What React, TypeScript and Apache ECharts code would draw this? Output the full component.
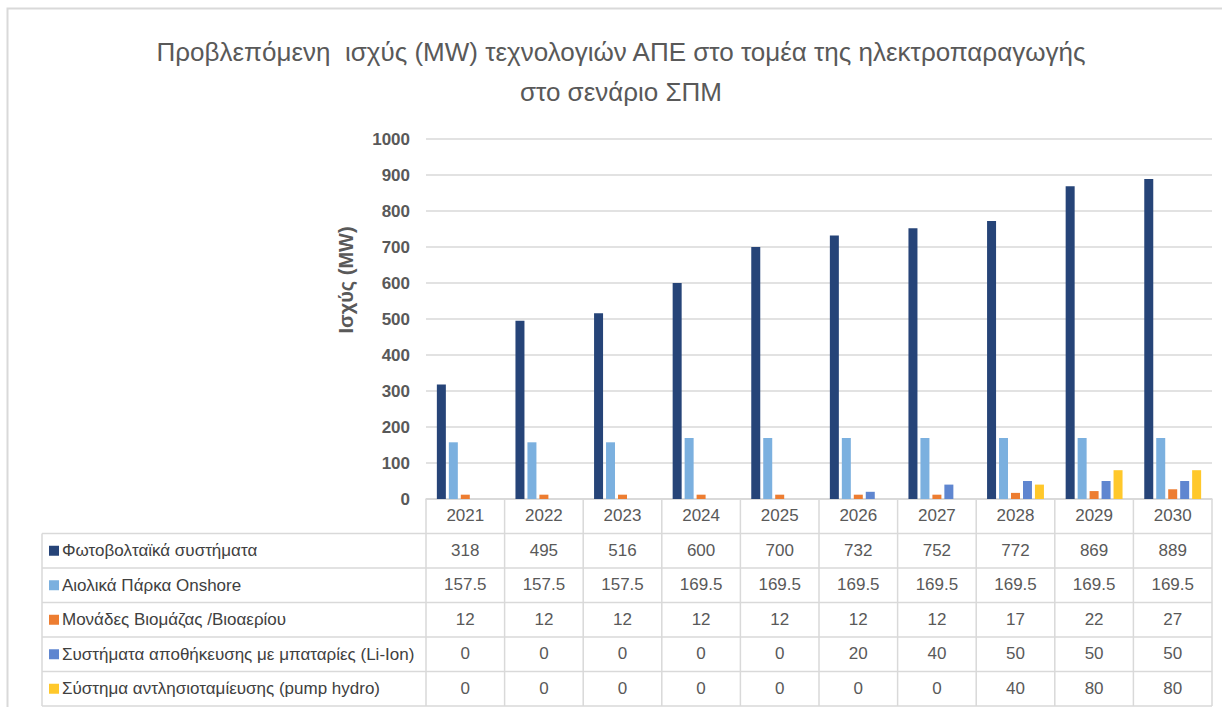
import React, { useEffect, useRef } from "react";
import * as echarts from "echarts";

const years = ["2021", "2022", "2023", "2024", "2025", "2026", "2027", "2028", "2029", "2030"];
const seriesNames = [
  "Φωτοβολταϊκά συστήματα",
  "Αιολικά Πάρκα Onshore",
  "Μονάδες Βιομάζας /Βιοαερίου",
  "Συστήματα αποθήκευσης με μπαταρίες (Li-Ion)",
  "Σύστημα αντλησιοταμίευσης (pump hydro)",
];
const pv = [318, 495, 516, 600, 700, 732, 752, 772, 869, 889];
const wind = [157.5, 157.5, 157.5, 169.5, 169.5, 169.5, 169.5, 169.5, 169.5, 169.5];
const biomass = [12, 12, 12, 12, 12, 12, 12, 17, 22, 27];
const battery = [0, 0, 0, 0, 0, 20, 40, 50, 50, 50];
const pumpHydro = [0, 0, 0, 0, 0, 0, 0, 40, 80, 80];
const seriesData = [pv, wind, biomass, battery, pumpHydro];
const colors = ["#264478", "#7BB0DF", "#ED7D31", "#5F86D0", "#FFC82B"];
const titleLines = [
  "Προβλεπόμενη  ισχύς (MW) τεχνολογιών ΑΠΕ στο τομέα της ηλεκτροπαραγωγής",
  "στο σενάριο ΣΠΜ",
];
const yAxisName = "Ισχύς (MW)";

export default function App() {
  const ref = useRef<HTMLDivElement>(null);
  useEffect(() => {
    document.body.style.margin = "0";
    const chart = echarts.init(ref.current!, undefined, { renderer: "svg" });
    const gridLeft = 426;
    const gridTop = 139;
    const gridW = 786;
    const gridH = 360;
    const gridBottomY = gridTop + gridH;
    const rowH = 34.5;
    const tableLeft = 42;
    const tableRight = gridLeft + gridW;
    const headerBottom = gridBottomY + rowH;
    const tableBottom = headerBottom + rowH * seriesNames.length;
    const colW = gridW / years.length;
    const border = "#D9D9D9";
    const font = "Liberation Sans";

    const graphics: any[] = [];
    graphics.push({
      type: "rect",
      shape: { x: 7.5, y: 8.5, width: 1240, height: 720 },
      style: { fill: "none", stroke: "#D9D9D9", lineWidth: 2 },
      silent: true,
    });
    graphics.push({
      type: "line",
      shape: { x1: gridLeft, y1: gridBottomY, x2: tableRight, y2: gridBottomY },
      style: { stroke: border, lineWidth: 1.5 },
    });
    for (let r = 0; r <= seriesNames.length; r++) {
      const y = headerBottom + r * rowH;
      graphics.push({
        type: "line",
        shape: { x1: tableLeft, y1: y, x2: tableRight, y2: y },
        style: { stroke: border, lineWidth: 1.5 },
      });
    }
    for (let c = 0; c <= years.length; c++) {
      const x = gridLeft + c * colW;
      graphics.push({
        type: "line",
        shape: { x1: x, y1: gridBottomY, x2: x, y2: tableBottom },
        style: { stroke: border, lineWidth: 1.5 },
      });
    }
    graphics.push({
      type: "line",
      shape: { x1: tableLeft, y1: headerBottom, x2: tableLeft, y2: tableBottom },
      style: { stroke: border, lineWidth: 1.5 },
    });
    seriesNames.forEach((name, i) => {
      const cy = headerBottom + i * rowH + rowH / 2;
      graphics.push({
        type: "rect",
        shape: { x: 49, y: cy - 5, width: 10, height: 10 },
        style: { fill: colors[i] },
      });
      graphics.push({
        type: "text",
        x: 62,
        y: cy,
        style: {
          text: name,
          font: `17px "${font}"`,
          fill: "#404040",
          verticalAlign: "middle",
          align: "left",
        },
      });
    });
    titleLines.forEach((t, i) => {
      graphics.push({
        type: "text",
        x: 621,
        y: 52 + i * 40,
        style: {
          text: t,
          font: `26px "${font}"`,
          fill: "#595959",
          align: "center",
          verticalAlign: "middle",
        },
      });
    });
    graphics.push({
      type: "text",
      x: 346,
      y: 280,
      rotation: Math.PI / 2,
      style: {
        text: yAxisName,
        font: `bold 20px "${font}"`,
        fill: "#595959",
        align: "center",
        verticalAlign: "middle",
      },
    });

    const xAxes: any[] = [
      {
        type: "category",
        data: years,
        gridIndex: 0,
        position: "bottom",
        axisLine: { show: true, lineStyle: { color: border, width: 1.5 } },
        axisTick: { show: false },
        axisLabel: { color: "#595959", fontSize: 17, fontFamily: font, margin: 8 },
      },
    ];
    seriesData.forEach((arr, i) => {
      xAxes.push({
        type: "category",
        data: arr.map((v) => String(v)),
        gridIndex: 0,
        position: "bottom",
        offset: rowH * (i + 1),
        axisLine: { show: false },
        axisTick: { show: false },
        splitLine: { show: false },
        axisLabel: { color: "#595959", fontSize: 17, fontFamily: font, margin: 8 },
      });
    });

    chart.setOption({
      animation: false,
      backgroundColor: "#FFFFFF",
      grid: { left: gridLeft, top: gridTop, width: gridW, height: gridH, containLabel: false },
      xAxis: xAxes,
      yAxis: {
        type: "value",
        min: 0,
        max: 1000,
        interval: 100,
        axisLine: { show: false },
        axisTick: { show: false },
        splitLine: { lineStyle: { color: border, width: 1.5 } },
        axisLabel: {
          color: "#595959",
          fontSize: 17,
          fontWeight: "bold",
          fontFamily: font,
          margin: 16,
          formatter: (v: number) => String(v),
        },
      },
      series: seriesData.map((arr, i) => ({
        type: "bar",
        name: seriesNames[i],
        data: arr,
        xAxisIndex: 0,
        barWidth: 9,
        barGap: "33%",
        itemStyle: { color: colors[i] },
      })),
      graphic: graphics,
    });
    return () => chart.dispose();
  }, []);
  return <div ref={ref} style={{ width: 1222, height: 707 }} />;
}
